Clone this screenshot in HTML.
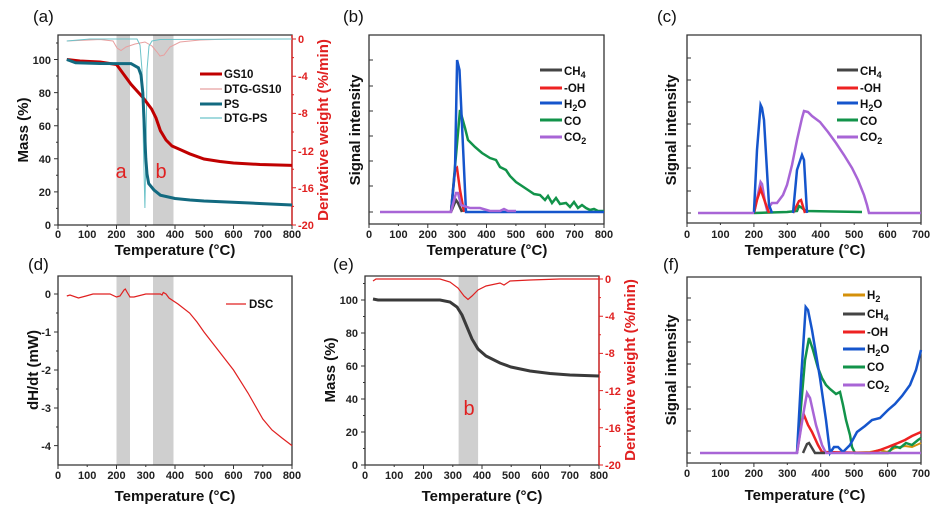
<!DOCTYPE html>
<html><head><meta charset="utf-8"><style>
html,body{margin:0;padding:0;background:#fff}
svg{display:block}
text{font-family:"Liberation Sans",Arial,sans-serif}
.t{font-size:11px;font-weight:bold;fill:#222}
.tr{font-size:11px;font-weight:bold;fill:#e02020}
.at{font-size:15px;font-weight:bold;fill:#111}
.pl{font-size:17px;fill:#111}
.lg{font-size:11.5px;font-weight:bold;fill:#111}
.ax{fill:none;stroke:#333;stroke-width:1.3}
.tk{stroke:#333;stroke-width:1}
.tkr{stroke:#e02020;stroke-width:1}
</style></head><body>
<svg width="947" height="516" viewBox="0 0 947 516" xmlns="http://www.w3.org/2000/svg">
<!-- ================= (a) ================= -->
<text class="pl" x="33" y="22">(a)</text>
<rect x="116.5" y="35" width="13.5" height="190" fill="#cfcfcf"/>
<rect x="153" y="35" width="20.5" height="190" fill="#cfcfcf"/>
<path d="M58,35H292V225H58Z" class="ax"/>
<line x1="292" y1="35" x2="292" y2="225" stroke="#e02020" stroke-width="1.3"/>
<g class="tk">
<path d="M58,225v4M87.2,225v2M116.5,225v4M145.8,225v2M175,225v4M204.2,225v2M233.5,225v4M262.8,225v2M292,225v4"/>
<path d="M58,225h-4M58,191.9h-4M58,158.8h-4M58,125.7h-4M58,92.6h-4M58,59.5h-4M58,208.4h-2M58,175.3h-2M58,142.2h-2M58,109.1h-2M58,76h-2M58,43h-2"/>
</g>
<path class="tkr" d="M292,39h4M292,76.2h4M292,113.4h4M292,150.6h4M292,187.8h4M292,225h4M292,57.6h2M292,94.8h2M292,132h2M292,169.2h2M292,206.4h2"/>
<g class="t" text-anchor="middle">
<text x="58" y="238">0</text><text x="87.2" y="238">100</text><text x="116.5" y="238">200</text><text x="145.8" y="238">300</text><text x="175" y="238">400</text><text x="204.2" y="238">500</text><text x="233.5" y="238">600</text><text x="262.8" y="238">700</text><text x="292" y="238">800</text>
</g>
<g class="t" text-anchor="end">
<text x="51" y="229">0</text><text x="51" y="196">20</text><text x="51" y="163">40</text><text x="51" y="130">60</text><text x="51" y="97">80</text><text x="51" y="64">100</text>
</g>
<g class="tr">
<text x="298" y="43">0</text><text x="298" y="80">-4</text><text x="298" y="117">-8</text><text x="298" y="155">-12</text><text x="298" y="192">-16</text><text x="298" y="229">-20</text>
</g>
<text class="at" x="175" y="255" text-anchor="middle">Temperature (°C)</text>
<text class="at" transform="translate(28,130) rotate(-90)" text-anchor="middle">Mass (%)</text>
<text class="at" transform="translate(328,130) rotate(-90)" text-anchor="middle" fill="#e02020" style="fill:#e02020">Derivative weight (%/min)</text>
<path d="M66.8,41 L100,39.5 L113,41 L117,48 L121,50.5 L126,47 L135,44 L145,42 L152,46 L157,52 L160,56 L164,55 L170,47 L180,42 L200,40 L230,39 L292,39" fill="none" stroke="#e8a0a0" stroke-width="1"/>
<path d="M66.8,41 L90,39 L137,39 L140,45 L142,70 L143.5,150 L144.9,208 L146,150 L147,70 L149,46 L152,41 L160,39.5 L292,39" fill="none" stroke="#6cc3c9" stroke-width="1"/>
<path d="M66.8,59.5 L80,61 L100,62 L116.5,64.5 L122,72 L131,84.3 L143,97.6 L151.6,109 L156,118 L160.4,130.7 L166,140 L172,146 L180,149.5 L189.6,153.8 L204,159 L220,161.5 L233.5,163 L260,164.5 L292,165.4" fill="none" stroke="#c00000" stroke-width="3"/>
<path d="M66.8,59.5 L75.6,62.8 L100,63.5 L131,63.6 L138.4,67.8 L141,75 L142.8,92.6 L144.5,130 L145.8,158.8 L147,174 L148.7,183.6 L154,190 L160.4,195.2 L175,198.5 L190,200 L204,201 L250,203 L292,205" fill="none" stroke="#126a80" stroke-width="3"/>
<text x="121" y="178" font-size="20" fill="#e02020" text-anchor="middle">a</text>
<text x="161" y="178" font-size="20" fill="#e02020" text-anchor="middle">b</text>
<line x1="200" y1="74" x2="222" y2="74" stroke="#c00000" stroke-width="3"/><text class="lg" x="224" y="78">GS10</text>
<line x1="200" y1="89" x2="222" y2="89" stroke="#e8a0a0" stroke-width="1.2"/><text class="lg" x="224" y="93">DTG-GS10</text>
<line x1="200" y1="104" x2="222" y2="104" stroke="#126a80" stroke-width="3"/><text class="lg" x="224" y="108">PS</text>
<line x1="200" y1="118" x2="222" y2="118" stroke="#6cc3c9" stroke-width="1.2"/><text class="lg" x="224" y="122">DTG-PS</text>

<!-- ================= (b) ================= -->
<text class="pl" x="343" y="22">(b)</text>
<path d="M369,35H604V224H369Z" class="ax"/>
<path class="tk" d="M369,224v4M398.4,224v2M427.8,224v4M457.1,224v2M486.5,224v4M515.9,224v2M545.3,224v4M574.6,224v2M604,224v4 M369,212h4M369,186h4M369,161h4M369,136h4M369,111h4M369,86h4M369,60h4"/>
<g class="t" text-anchor="middle">
<text x="369" y="238">0</text><text x="398.4" y="238">100</text><text x="427.8" y="238">200</text><text x="457.1" y="238">300</text><text x="486.5" y="238">400</text><text x="515.9" y="238">500</text><text x="545.3" y="238">600</text><text x="574.6" y="238">700</text><text x="604" y="238">800</text>
</g>
<text class="at" x="487" y="255" text-anchor="middle">Temperature (°C)</text>
<text class="at" transform="translate(360,130) rotate(-90)" text-anchor="middle">Signal intensity</text>
<path d="M451,212 L460,110 L465,128 L468,140 L475,147 L482,153 L490,158 L496,160 L500,167 L506,170 L510,176 L516,182 L522,186 L528,190 L534,194 L540,195 L545,200 L548,196 L552,203 L556,198 L560,204 L566,203 L570,207 L574,202 L578,208 L582,205 L586,208 L590,210 L594,209 L598,211 L604,211" fill="none" stroke="#12934a" stroke-width="2.5"/>
<path d="M451,212 L455,170 L457,168 L460,190 L464,212" fill="none" stroke="#ee2222" stroke-width="2.5"/>
<path d="M451,212 L455,170 L457.1,60 L459.5,70 L466,212 L604,212" fill="none" stroke="#1555cc" stroke-width="2.5"/>
<path d="M451,212 L456,200 L458,203 L462,212" fill="none" stroke="#444" stroke-width="2.5"/>
<path d="M380,212 L451,212 L456,193 L458,193 L461,205 L470,208 L480,208 L490,211 L500,211 L504,209 L508,211 L516,211" fill="none" stroke="#a865d6" stroke-width="2.5"/>
<line x1="540" y1="70" x2="562" y2="70" stroke="#444" stroke-width="3"/><text class="lg" x="564" y="75">CH<tspan font-size="9" dy="3">4</tspan></text>
<line x1="540" y1="88" x2="562" y2="88" stroke="#ee2222" stroke-width="3"/><text class="lg" x="564" y="92">-OH</text>
<line x1="540" y1="103" x2="562" y2="103" stroke="#1555cc" stroke-width="3"/><text class="lg" x="564" y="108">H<tspan font-size="9" dy="3">2</tspan><tspan dy="-3">O</tspan></text>
<line x1="540" y1="120" x2="562" y2="120" stroke="#12934a" stroke-width="3"/><text class="lg" x="564" y="125">CO</text>
<line x1="540" y1="137" x2="562" y2="137" stroke="#a865d6" stroke-width="3"/><text class="lg" x="564" y="141">CO<tspan font-size="9" dy="3">2</tspan></text>

<!-- ================= (c) ================= -->
<text class="pl" x="657" y="22">(c)</text>
<path d="M687,35H921V223H687Z" class="ax"/>
<path class="tk" d="M687,223v4M720.4,223v2M753.9,223v4M787.3,223v2M820.7,223v4M854.2,223v2M887.6,223v4M921,223v2 M687,213h4M687,191h4M687,168h4M687,146h4M687,124h4M687,102h4M687,80h4M687,58h4"/>
<g class="t" text-anchor="middle">
<text x="687" y="238">0</text><text x="720.4" y="238">100</text><text x="753.9" y="238">200</text><text x="787.3" y="238">300</text><text x="820.7" y="238">400</text><text x="854.2" y="238">500</text><text x="887.6" y="238">600</text><text x="921" y="238">700</text>
</g>
<text class="at" x="805" y="255" text-anchor="middle">Temperature (°C)</text>
<text class="at" transform="translate(676,130) rotate(-90)" text-anchor="middle">Signal intensity</text>
<path d="M753.9,213 L760.6,182 L762,184 L765,202 L767,210 L772,203 L777,203 L783,195 L787,185 L792,165 L797,140 L802,118 L804,111 L808,112 L812,116 L820,122 L828,132 L836,143 L844,155 L852,168 L858,180 L864,195 L867,205 L869,213 L921,213" fill="none" stroke="#a865d6" stroke-width="2.5"/>
<path d="M754,213 L787,212 L797,211 L799,206 L802,208 L806,211 L862,212" fill="none" stroke="#12934a" stroke-width="2.5"/>
<path d="M754,213 L757,200 L760.6,189 L764,199 L769,213 M793,213 L799,201 L801,200 L805,213" fill="none" stroke="#ee2222" stroke-width="2.5"/>
<path d="M753.9,213 L757,150 L760.6,105 L762,108 L764,120 L769,205 L772,213 M793,213 L797,170 L802,155 L804,160 L807,213" fill="none" stroke="#1555cc" stroke-width="2.5"/>
<path d="M698,213 L754,213" fill="none" stroke="#a865d6" stroke-width="2.5"/>
<line x1="837" y1="70" x2="858" y2="70" stroke="#444" stroke-width="3"/><text class="lg" x="860" y="75">CH<tspan font-size="9" dy="3">4</tspan></text>
<line x1="837" y1="88" x2="858" y2="88" stroke="#ee2222" stroke-width="3"/><text class="lg" x="860" y="92">-OH</text>
<line x1="837" y1="103" x2="858" y2="103" stroke="#1555cc" stroke-width="3"/><text class="lg" x="860" y="108">H<tspan font-size="9" dy="3">2</tspan><tspan dy="-3">O</tspan></text>
<line x1="837" y1="120" x2="858" y2="120" stroke="#12934a" stroke-width="3"/><text class="lg" x="860" y="125">CO</text>
<line x1="837" y1="137" x2="858" y2="137" stroke="#a865d6" stroke-width="3"/><text class="lg" x="860" y="141">CO<tspan font-size="9" dy="3">2</tspan></text>

<!-- ================= (d) ================= -->
<text class="pl" x="28" y="270">(d)</text>
<rect x="116.5" y="276" width="13.5" height="189" fill="#cfcfcf"/>
<rect x="153" y="276" width="20.5" height="189" fill="#cfcfcf"/>
<path d="M58,276H292V465H58Z" class="ax"/>
<path class="tk" d="M58,465v4M87.2,465v2M116.5,465v4M145.8,465v2M175,465v4M204.2,465v2M233.5,465v4M262.8,465v2M292,465v4 M58,294h-4M58,332h-4M58,370h-4M58,408h-4M58,445.6h-4M58,313h-2M58,351h-2M58,389h-2M58,427h-2"/>
<g class="t" text-anchor="middle">
<text x="58" y="479">0</text><text x="87.2" y="479">100</text><text x="116.5" y="479">200</text><text x="145.8" y="479">300</text><text x="175" y="479">400</text><text x="204.2" y="479">500</text><text x="233.5" y="479">600</text><text x="262.8" y="479">700</text><text x="292" y="479">800</text>
</g>
<g class="t" text-anchor="end">
<text x="51" y="298">0</text><text x="51" y="336">-1</text><text x="51" y="374">-2</text><text x="51" y="412">-3</text><text x="51" y="450">-4</text>
</g>
<text class="at" x="175" y="501" text-anchor="middle">Temperature (°C)</text>
<text class="at" transform="translate(38,370) rotate(-90)" text-anchor="middle">dH/dt (mW)</text>
<path d="M66.8,296 L70,295 L78.5,298 L86,296 L93,294 L110,294 L116.5,297 L120,296 L124,290 L125.3,289 L127,292 L130,297 L134,297 L145.8,294 L160.4,294 L162,295 L163.3,292.5 L166,294 L169,298 L178,304 L189.6,313 L197,322 L204,332 L218,350 L233.5,370 L248,393 L262.8,419 L272,430 L282,438 L292,445.6" fill="none" stroke="#e02020" stroke-width="1.2"/>
<line x1="226" y1="304" x2="246" y2="304" stroke="#e02020" stroke-width="1.2"/><text class="lg" x="249" y="308">DSC</text>

<!-- ================= (e) ================= -->
<text class="pl" x="333" y="270">(e)</text>
<rect x="458.6" y="276" width="19.5" height="189" fill="#cfcfcf"/>
<path d="M365,276H599V465H365Z" class="ax"/>
<line x1="599" y1="276" x2="599" y2="465" stroke="#e02020" stroke-width="1.3"/>
<path class="tk" d="M365,465v4M394.2,465v2M423.5,465v4M452.8,465v2M482,465v4M511.2,465v2M540.5,465v4M569.8,465v2M599,465v4 M365,465h-4M365,432h-4M365,399h-4M365,366h-4M365,333h-4M365,300h-4M365,448.5h-2M365,415.5h-2M365,382.5h-2M365,349.5h-2M365,316.5h-2M365,283.5h-2"/>
<path class="tkr" d="M599,279h4M599,316.2h4M599,353.4h4M599,390.6h4M599,427.8h4M599,465h4M599,297.6h2M599,334.8h2M599,372h2M599,409.2h2M599,446.4h2"/>
<g class="t" text-anchor="middle">
<text x="365" y="479">0</text><text x="394.2" y="479">100</text><text x="423.5" y="479">200</text><text x="452.8" y="479">300</text><text x="482" y="479">400</text><text x="511.2" y="479">500</text><text x="540.5" y="479">600</text><text x="569.8" y="479">700</text><text x="599" y="479">800</text>
</g>
<g class="t" text-anchor="end">
<text x="358" y="469">0</text><text x="358" y="436">20</text><text x="358" y="403">40</text><text x="358" y="370">60</text><text x="358" y="337">80</text><text x="358" y="304">100</text>
</g>
<g class="tr">
<text x="605" y="283">0</text><text x="605" y="320">-4</text><text x="605" y="357">-8</text><text x="605" y="395">-12</text><text x="605" y="432">-16</text><text x="605" y="469">-20</text>
</g>
<text class="at" x="482" y="501" text-anchor="middle">Temperature (°C)</text>
<text class="at" transform="translate(335,370) rotate(-90)" text-anchor="middle">Mass (%)</text>
<text class="at" transform="translate(635,370) rotate(-90)" text-anchor="middle" style="fill:#e02020">Derivative weight (%/min)</text>
<path d="M373,281 L376,279 L440,279 L450,282 L458,288 L464,296 L468,299.5 L472,296 L478,290 L486,286 L500,283 L504,285 L510,281 L530,280 L560,279 L599,279" fill="none" stroke="#e02020" stroke-width="1.2"/>
<path d="M373,299 L378,300 L440,300 L450,302 L457,307 L462,315 L467,327 L472,339 L478,349 L486,356 L500,363 L511,367 L530,371 L550,373.5 L570,375 L599,376" fill="none" stroke="#3a3a3a" stroke-width="3"/>
<text x="469" y="415" font-size="20" fill="#e02020" text-anchor="middle">b</text>

<!-- ================= (f) ================= -->
<text class="pl" x="663" y="270">(f)</text>
<path d="M687,277H921V463H687Z" class="ax"/>
<path class="tk" d="M687,463v4M720.4,463v2M753.9,463v4M787.3,463v2M820.7,463v4M854.2,463v2M887.6,463v4M921,463v2 M687,453h4M687,431h4M687,409h4M687,387h4M687,364h4M687,342h4M687,320h4M687,298h4"/>
<g class="t" text-anchor="middle">
<text x="687" y="477">0</text><text x="720.4" y="477">100</text><text x="753.9" y="477">200</text><text x="787.3" y="477">300</text><text x="820.7" y="477">400</text><text x="854.2" y="477">500</text><text x="887.6" y="477">600</text><text x="921" y="477">700</text>
</g>
<text class="at" x="805" y="500" text-anchor="middle">Temperature (°C)</text>
<text class="at" transform="translate(676,370) rotate(-90)" text-anchor="middle">Signal intensity</text>
<path d="M840,453 L870,452 L880,450 L887,452 L895,448 L905,446 L912,447 L921,443" fill="none" stroke="#d4900a" stroke-width="2"/>
<path d="M797,453 L805,360 L809,338 L813,350 L818,368 L822,378 L826,385 L830,389 L836,394 L840,392 L843,405 L846,420 L850,435 L852,447 L855,453 L888,453 L894,446 L900,448 L906,443 L912,445 L918,440 L921,438" fill="none" stroke="#12934a" stroke-width="2.5"/>
<path d="M797,453 L802,420 L804,415 L808,425 L812,432 L818,445 L822,452 L870,453 L880,450 L888,447 L898,443 L905,440 L912,436 L921,432" fill="none" stroke="#ee2222" stroke-width="2.5"/>
<path d="M797,453 L801,380 L805.7,307 L808,310 L812,330 L820,378 L826,420 L830,453 L834,447 L838,447 L843,452 L850,445 L857,432 L865,426 L872,420 L880,418 L888,410 L895,404 L902,396 L910,385 L916,370 L921,350" fill="none" stroke="#1555cc" stroke-width="2.5"/>
<path d="M700,453 L797,453 L804,410 L807,393 L810,398 L816,425 L822,445 L826,453 L921,453" fill="none" stroke="#a865d6" stroke-width="2.5"/>
<path d="M803,453 L807,444 L809,443 L812,448 L815,453 L825,453" fill="none" stroke="#444" stroke-width="2.5"/>
<line x1="843" y1="295" x2="865" y2="295" stroke="#d4900a" stroke-width="3"/><text class="lg" x="867" y="299">H<tspan font-size="9" dy="3">2</tspan></text>
<line x1="843" y1="314" x2="865" y2="314" stroke="#444" stroke-width="3"/><text class="lg" x="867" y="318">CH<tspan font-size="9" dy="3">4</tspan></text>
<line x1="843" y1="332" x2="865" y2="332" stroke="#ee2222" stroke-width="3"/><text class="lg" x="867" y="336">-OH</text>
<line x1="843" y1="349" x2="865" y2="349" stroke="#1555cc" stroke-width="3"/><text class="lg" x="867" y="353">H<tspan font-size="9" dy="3">2</tspan><tspan dy="-3">O</tspan></text>
<line x1="843" y1="367" x2="865" y2="367" stroke="#12934a" stroke-width="3"/><text class="lg" x="867" y="371">CO</text>
<line x1="843" y1="385" x2="865" y2="385" stroke="#a865d6" stroke-width="3"/><text class="lg" x="867" y="389">CO<tspan font-size="9" dy="3">2</tspan></text>
</svg>
</body></html>
